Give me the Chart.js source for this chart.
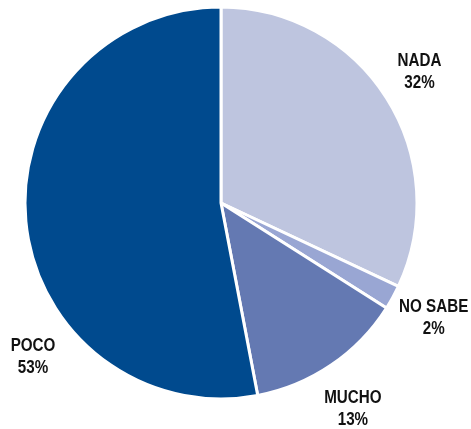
<!DOCTYPE html>
<html>
<head>
<meta charset="utf-8">
<script src="https://cdn.jsdelivr.net/npm/chart.js@4/dist/chart.umd.min.js"></script>
<style>
  html, body { margin: 0; padding: 0; background: #fff; }
  #wrap { width: 471px; height: 429px; position: relative; }
</style>
</head>
<body>
<div id="wrap"><canvas id="pie"></canvas></div>
<script>
// ── Data ──
const categories = ['NADA', 'NO SABE', 'MUCHO', 'POCO'];
const values     = [32, 2, 13, 53];
const colors     = ['#bec5df', '#99a6d3', '#6479b2', '#004a8e'];

// label anchor relative to pie centre, in units of radius
const labelSpots = [[1.013, -0.668], [1.085, 0.587], [0.673, 1.051], [-0.959, 0.786]];

// ── Outside labels (condensed look via horizontal squeeze) ──
const outsideLabels = {
  id: 'outsideLabels',
  afterDatasetsDraw(chart) {
    const ctx  = chart.ctx;
    const arcs = chart.getDatasetMeta(0).data;
    const sx   = 0.8;
    ctx.save();
    ctx.font = 'bold 19px "Liberation Sans", Arial, sans-serif';
    ctx.fillStyle = '#111';
    ctx.textAlign = 'center';
    ctx.textBaseline = 'middle';
    arcs.forEach((arc, i) => {
      const r = arc.outerRadius;
      const x = arc.x + labelSpots[i][0] * r;
      const y = arc.y + labelSpots[i][1] * r;
      ctx.save();
      ctx.translate(x, y);
      ctx.scale(sx, 1);
      ctx.fillText(categories[i], 0, -11);
      ctx.fillText(values[i] + '%', 0, 11);
      ctx.restore();
    });
    ctx.restore();
  }
};

new Chart(document.getElementById('pie'), {
  type: 'pie',
  data: {
    labels: categories,
    datasets: [{
      data:            values,
      backgroundColor: colors,
      borderColor:     '#ffffff',
      borderWidth:     3,
      radius:          196,
      hoverOffset:     0,
    }],
  },
  options: {
    responsive:          true,
    maintainAspectRatio: false,
    animation:           false,
    layout: { padding: { left: 0, right: 29, top: 0, bottom: 23 } },
    plugins: {
      legend:  { display: false },
      tooltip: { enabled: false },
    },
  },
  plugins: [outsideLabels],
});
</script>
</body>
</html>
